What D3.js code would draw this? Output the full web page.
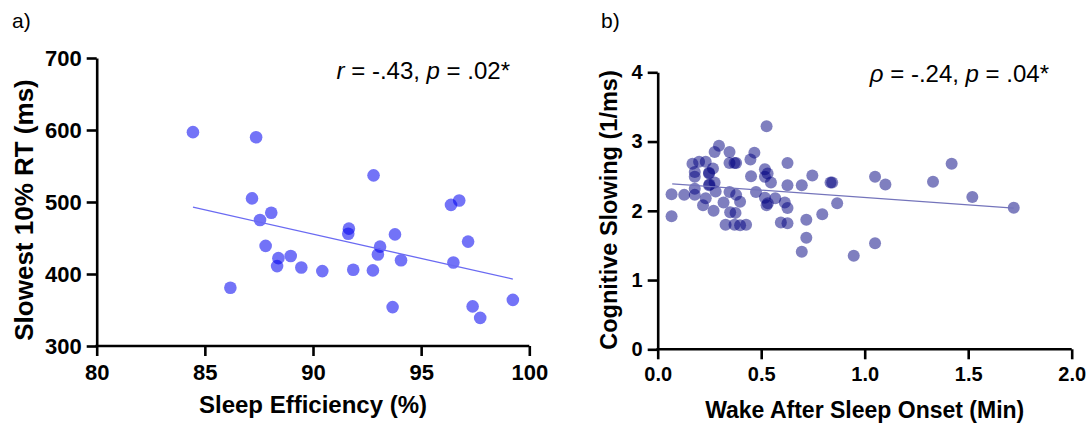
<!DOCTYPE html>
<html><head><meta charset="utf-8">
<script src="https://cdn.jsdelivr.net/npm/d3@7"></script>
<style>
body{margin:0;background:#fff;}
svg{display:block;font-family:"Liberation Sans",Arial,sans-serif;}
</style></head>
<body>
<svg id="chart" width="1089" height="423"></svg>
<script>
// Panel a: Sleep efficiency (%) vs slowest 10% RT (ms)
const effX = [84.45,87.37,92.80,87.18,96.38,96.76,88.07,87.55,91.66,91.63,93.79,97.17,87.81,93.10,93.00,88.40,88.97,94.07,88.34,89.46,96.49,90.43,91.86,92.77,86.18,93.68,97.38,97.73,99.24];
const rtY  = [597,590,537,505,496,502,485,475,463,456,455,445,439,438,427,422,425,419,411,409,416,404,406,405,381,354,355,339,364];
const fitAX = [84.45, 99.24];
const fitAY = [492.8, 393.0];
const ticksAX = [80,85,90,95,100];
const ticksAY = [300,400,500,600,700];

// Panel b: WASO (Min) vs cognitive slowing (1/ms)
const wasoX = [0.067,0.067,0.128,0.168,0.179,0.179,0.179,0.179,0.200,0.232,0.219,0.232,0.248,0.248,0.248,0.250,0.267,0.275,0.280,0.270,0.275,0.296,0.318,0.328,0.347,0.347,0.371,0.379,0.347,0.350,0.376,0.379,0.398,0.371,0.398,0.427,0.451,0.448,0.467,0.475,0.518,0.518,0.531,0.526,0.547,0.568,0.518,0.526,0.532,0.614,0.627,0.595,0.627,0.627,0.627,0.696,0.718,0.718,0.696,0.747,0.795,0.835,0.843,0.867,0.947,1.05,1.05,1.10,1.33,1.42,1.52,1.72];
const slowY = [2.24,1.92,2.23,2.68,2.56,2.49,2.32,2.23,2.71,2.71,2.08,2.18,2.54,2.55,2.37,2.38,2.61,2.41,2.28,2.00,2.85,2.94,2.12,1.80,2.85,2.69,2.69,2.69,2.27,1.98,1.97,2.23,2.13,1.80,1.79,1.80,2.50,2.74,2.84,2.27,2.60,2.49,2.54,3.22,2.41,2.18,2.19,2.08,2.11,2.12,2.04,1.83,1.82,2.37,2.69,2.37,1.87,1.61,1.41,2.51,1.95,2.41,2.41,2.11,1.35,2.49,1.53,2.38,2.42,2.68,2.20,2.045];
const fitBX = [0.07, 1.72];
const fitBY = [2.39, 2.04];
const ticksBX = [0,0.5,1,1.5,2];
const ticksBY = [0,1,2,3,4];

const svg = d3.select("#chart");
const FONT = '"Liberation Sans",Arial,sans-serif';

function panel(o){
  const g = svg.append("g");
  const x = d3.scaleLinear().domain(o.xDom).range([o.x0, o.x1]);
  const y = d3.scaleLinear().domain(o.yDom).range([o.y0, o.y1]);

  // points
  g.append("g").selectAll("circle").data(o.xs.map((v,i)=>[v,o.ys[i]])).join("circle")
    .attr("cx", d=>x(d[0])).attr("cy", d=>y(d[1])).attr("r", o.r)
    .attr("fill", o.pt).attr("fill-opacity", o.ptOp);

  // fit line
  g.append("line")
    .attr("x1", x(o.fx[0])).attr("y1", y(o.fy[0]))
    .attr("x2", x(o.fx[1])).attr("y2", y(o.fy[1]))
    .attr("stroke", o.line).attr("stroke-width", 1.3);

  // axes
  const ax = g.append("g").attr("transform", `translate(0,${o.y0})`)
    .call(d3.axisBottom(x).tickValues(o.tx).tickFormat(o.fmtX).tickSize(10).tickSizeOuter(0).tickPadding(8));
  const ay = g.append("g").attr("transform", `translate(${o.x0},0)`)
    .call(d3.axisLeft(y).tickValues(o.ty).tickFormat(o.fmtY).tickSize(10).tickSizeOuter(0).tickPadding(5));
  [ax, ay].forEach(a=>{
    a.selectAll("path.domain").attr("stroke","#000").attr("stroke-width",2.6);
    a.selectAll(".tick line").attr("stroke","#000").attr("stroke-width",2.6);
    a.selectAll(".tick text").attr("fill","#000").style("font-family",FONT)
      .style("font-size",o.tickFs).style("font-weight","bold");
  });
  ax.select("path.domain").attr("d", `M${o.x0-1.3},0H${o.x1}`);

  // axis titles
  g.append("text").attr("x", (o.x0+o.x1)/2).attr("y", o.xtY)
    .attr("text-anchor","middle").style("font-size",o.xtFs).style("font-weight","bold")
    .text(o.xTitle);
  g.append("text").attr("transform", `translate(${o.ytX},${o.ytC}) rotate(-90)`)
    .attr("text-anchor","middle").style("font-size",o.ytFs).style("font-weight","bold")
    .text(o.yTitle);

  // panel label
  g.append("text").attr("x", o.lblX).attr("y", 28).style("font-size","21px").text(o.lbl);

  // stats annotation
  const t = g.append("text").attr("x", o.annX).attr("y", o.annY).attr("text-anchor","end")
    .style("font-size","24px");
  o.ann.forEach(s=>t.append("tspan").style("font-style", s[1]?"italic":"normal").text(s[0]));
}

panel({
  xs: effX, ys: rtY, fx: fitAX, fy: fitAY, tx: ticksAX, ty: ticksAY,
  xDom:[80,100], yDom:[300,700], x0:96.7, x1:529.3, y0:346, y1:58,
  fmtX: d3.format("d"), fmtY: d3.format("d"),
  pt:"#0000f0", ptOp:0.55, line:"#6a6af2", r:6.3,
  tickFs:"22px", xtFs:"24px", ytFs:"26px",
  xTitle:"Sleep Efficiency (%)", yTitle:"Slowest 10% RT (ms)", xtY:413, ytX:33, ytC:210,
  lbl:"a)", lblX:12, annX:510, annY:79,
  ann:[["r",true],[" = -.43, ",false],["p",true],[" = .02*",false]]
});

panel({
  xs: wasoX, ys: slowY, fx: fitBX, fy: fitBY, tx: ticksBX, ty: ticksBY,
  xDom:[0,2], yDom:[0,4], x0:657.7, x1:1071.7, y0:349.3, y1:72.3,
  fmtX: d3.format(".1f"), fmtY: d3.format("d"),
  pt:"#000080", ptOp:0.5, line:"#7474bb", r:6,
  tickFs:"20px", xtFs:"23px", ytFs:"23.5px",
  xTitle:"Wake After Sleep Onset (Min)", yTitle:"Cognitive Slowing (1/ms)", xtY:418, ytX:617, ytC:210,
  lbl:"b)", lblX:601, annX:1049, annY:82,
  ann:[["ρ",true],[" = -.24, ",false],["p",true],[" = .04*",false]]
});
</script>
</body></html>
